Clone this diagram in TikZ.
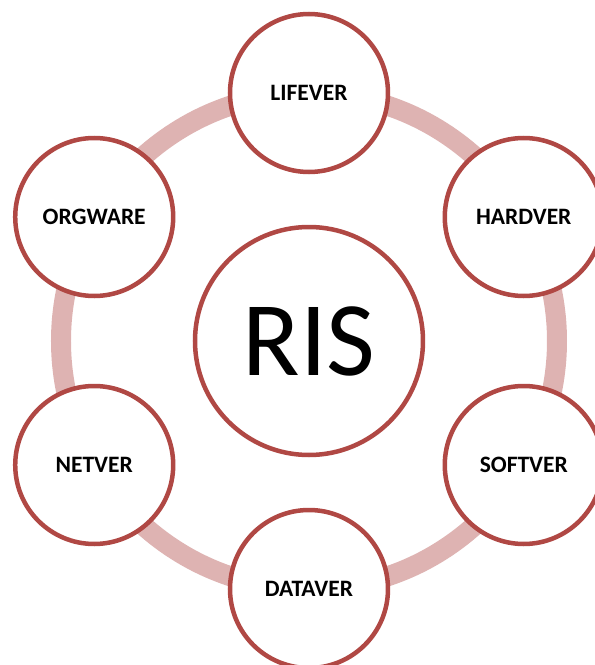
\documentclass[tikz,border=0pt]{standalone}
\usepackage{fontspec}
\setmainfont{Carlito}
\definecolor{risred}{RGB}{176,72,68}
\definecolor{ringpink}{RGB}{222,179,178}
\tikzset{
  hubnode/.style={circle,draw=risred,line width=4.5pt,fill=white,minimum size=228pt,inner sep=0pt,font=\fontsize{106}{110}\selectfont},
  satnode/.style={circle,draw=risred,line width=4.5pt,fill=white,minimum size=158pt,inner sep=0pt,font=\fontsize{23.5}{26}\selectfont\bfseries},
  ringline/.style={ringpink,line width=20pt}
}
\begin{document}
\begin{tikzpicture}[x=1pt,y=1pt]
  \useasboundingbox (-309,-324) rectangle (286,341);
  \node[hubnode] (ris) at (0,0) {RIS};
  \draw[ringline] (ris.center) circle (248);
  \foreach \ang/\lab/\nm in {90/LIFEVER/life,30/HARDVER/hard,-30/SOFTVER/soft,
    -90/DATAVER/data,-150/NETVER/net,150/ORGWARE/org}
    \node[satnode] (\nm) at (\ang:248) {\lab};
\end{tikzpicture}
\end{document}
